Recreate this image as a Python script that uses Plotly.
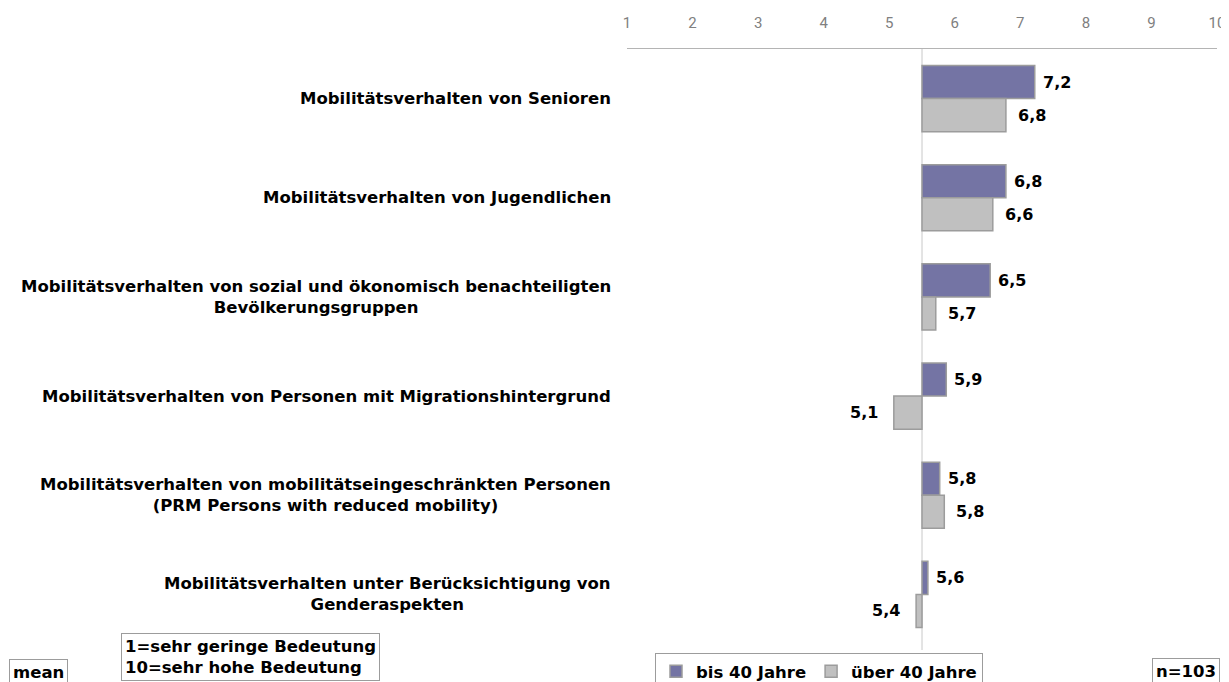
import plotly.graph_objects as go

categories = [
    "Mobilitätsverhalten von Senioren",
    "Mobilitätsverhalten von Jugendlichen",
    "Mobilitätsverhalten von sozial und ökonomisch benachteiligten<br>Bevölkerungsgruppen",
    "Mobilitätsverhalten von Personen mit Migrationshintergrund",
    "Mobilitätsverhalten von mobilitätseingeschränkten Personen<br>(PRM Persons with reduced mobility)",
    "Mobilitätsverhalten unter Berücksichtigung von<br>Genderaspekten",
]
series_names = ["bis 40 Jahre", "über 40 Jahre"]
bis40 = [7.22, 6.78, 6.54, 5.87, 5.77, 5.59]
ueber40 = [6.78, 6.58, 5.71, 5.07, 5.84, 5.41]
tick_vals = [1, 2, 3, 4, 5, 6, 7, 8, 9, 10]
base_value = 5.5

PURPLE = "#7474a4"
GREY = "#c0c0c0"
EDGE = "#9c9c9c"
FONT = "DejaVu Sans"
FS = 16.5

# page is offset by the default 8px body margin
OFF = 8
PAGE_W, PAGE_H = 1229, 682
PLOT_L, PLOT_R, PLOT_T, PLOT_B = 627, 1217, 49, 644
W, H = PAGE_W - OFF, PAGE_H - OFF
L, R, T, B = PLOT_L - OFF, PAGE_W - PLOT_R, PLOT_T - OFF, PAGE_H - PLOT_B
PW, PH = PLOT_R - PLOT_L, PLOT_B - PLOT_T


def px_x(px):
    return (px - PLOT_L) / PW


def px_y(py):
    return (PLOT_B - py) / PH


def cont_x(px):
    return (px - OFF) / W


def cont_y(py):
    return 1 - (py - OFF) / H


fig = go.Figure()
for name, vals, col in [(series_names[0], bis40, PURPLE), (series_names[1], ueber40, GREY)]:
    fig.add_trace(go.Bar(
        y=categories,
        x=[v - base_value for v in vals],
        base=base_value,
        orientation="h",
        name=name,
        marker=dict(color=col, line=dict(color=EDGE, width=1.5)),
        hoverinfo="skip",
    ))

annotations = []
for c in categories:
    annotations.append(dict(
        x=0, xref="paper", y=c, yref="y", text="<b>%s</b>" % c,
        xanchor="right", yanchor="middle", align="center", xshift=-14,
        showarrow=False, font=dict(family=FONT, size=FS, color="#000"),
    ))

for vals, ysh, gap in [(bis40, 16.5, 6), (ueber40, -16.5, 10)]:
    for c, v in zip(categories, vals):
        txt = ("%.1f" % v).replace(".", ",")
        if v >= base_value:
            annotations.append(dict(x=v, xref="x", y=c, yref="y", text="<b>%s</b>" % txt,
                                    xanchor="left", yanchor="middle", xshift=gap, yshift=ysh,
                                    showarrow=False, font=dict(family=FONT, size=16, color="#000")))
        else:
            annotations.append(dict(x=v, xref="x", y=c, yref="y", text="<b>%s</b>" % txt,
                                    xanchor="right", yanchor="middle", xshift=-14, yshift=ysh,
                                    showarrow=False, font=dict(family=FONT, size=16, color="#000")))

box_font = dict(family=FONT, size=FS, color="#000")
annotations.append(dict(x=px_x(9), y=px_y(659), xref="paper", yref="paper",
                        text="<b>mean</b>", xanchor="left", yanchor="top", showarrow=False,
                        bordercolor="#9c9c9c", borderwidth=1, borderpad=3, font=box_font))
annotations.append(dict(x=px_x(121), y=px_y(633), xref="paper", yref="paper",
                        text="<b>1=sehr geringe Bedeutung<br>10=sehr hohe Bedeutung</b>",
                        xanchor="left", yanchor="top", align="left", showarrow=False,
                        bordercolor="#9c9c9c", borderwidth=1, borderpad=3, font=box_font))
annotations.append(dict(x=px_x(1152), y=px_y(658), xref="paper", yref="paper",
                        text="<b>n=103</b>", xanchor="left", yanchor="top", showarrow=False,
                        bordercolor="#9c9c9c", borderwidth=1, borderpad=3, font=box_font))

fig.update_layout(
    width=W, height=H,
    margin=dict(l=L, r=R, t=T, b=B, pad=0, autoexpand=False),
    paper_bgcolor="white", plot_bgcolor="white",
    barmode="group", bargap=0.333, bargroupgap=0,
    showlegend=True,
    legend=dict(orientation="h", xref="container", yref="container",
                x=cont_x(655), y=cont_y(653), xanchor="left", yanchor="top",
                bordercolor="#9c9c9c", borderwidth=1, tracegroupgap=0,
                font=dict(family=FONT, size=FS, color="#000", weight="bold"),
                itemwidth=30, traceorder="normal"),
    xaxis=dict(range=[1, 10], side="top", tickvals=tick_vals, showgrid=False, zeroline=False,
               showline=True, linecolor="#b4b4b4", linewidth=1, ticks="",
               ticklabelstandoff=14,
               tickfont=dict(family="Roboto", size=15, color="#808080")),
    yaxis=dict(autorange="reversed", showticklabels=False, showgrid=False, zeroline=False,
               showline=False, ticks=""),
    annotations=annotations,
    shapes=[dict(type="line", xref="x", yref="paper", x0=base_value, x1=base_value,
                 y0=1, y1=px_y(650), line=dict(color="#c8c8c8", width=1), layer="below")],
)

fig.write_html("out.html")
